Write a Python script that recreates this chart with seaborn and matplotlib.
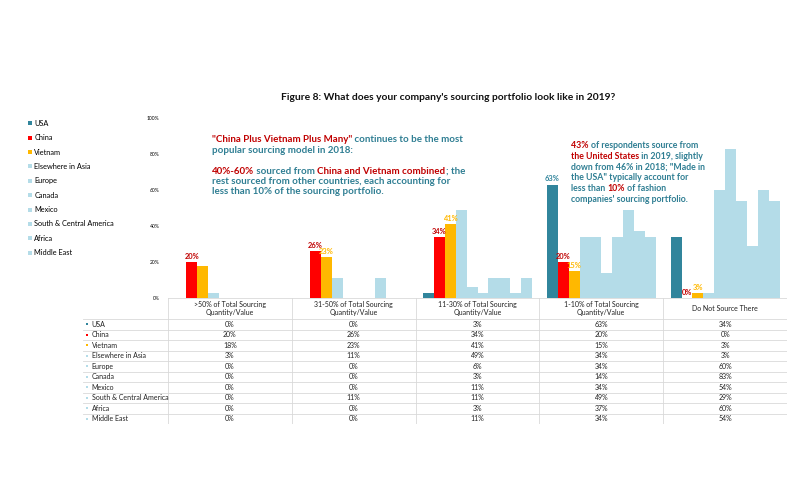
import pandas as pd
import seaborn as sns
import matplotlib.pyplot as plt
from matplotlib.lines import Line2D

# data
groups = [">50% of Total Sourcing\nQuantity/Value", "31-50% of Total Sourcing\nQuantity/Value",
          "11-30% of Total Sourcing\nQuantity/Value", "1-10% of Total Sourcing\nQuantity/Value",
          "Do Not Source There"]
countries = ["USA", "China", "Vietnam", "Elsewhere in Asia", "Europe", "Canada", "Mexico",
             "South & Central America", "Africa", "Middle East"]
usa = [0, 0, 3, 63, 34]
china = [20, 26, 34, 20, 0]
vietnam = [18, 23, 41, 15, 3]
elsewhere_asia = [3, 11, 49, 34, 3]
europe = [0, 0, 6, 34, 60]
canada = [0, 0, 3, 14, 83]
mexico = [0, 0, 11, 34, 54]
south_central_america = [0, 11, 11, 49, 29]
africa = [0, 0, 3, 37, 60]
middle_east = [0, 0, 11, 34, 54]
series = [usa, china, vietnam, elsewhere_asia, europe, canada, mexico,
          south_central_america, africa, middle_east]

teal = "#31859C"
red = "#FF0000"
gold = "#FFB800"
light = "#B4DCE8"
colors = [teal, red, gold] + [light] * 7
txt_red = "#C00000"
txt_teal = "#2F7E93"

rows = []
for c, vals in zip(countries, series):
    for g, v in zip(groups, vals):
        rows.append({"group": g, "country": c, "value": v / 100})
df = pd.DataFrame(rows)

plt.rcParams['font.family'] = ['Lato', 'DejaVu Sans']
fig = plt.figure(figsize=(8.1, 5), dpi=100)
W, H = 810, 500

ax = fig.add_axes([168 / W, 1 - 298 / H, (787 - 168) / W, 180 / H])
sns.barplot(data=df, x="group", y="value", hue="country", palette=colors,
            saturation=1, width=0.88, linewidth=0, ax=ax)
ax.set_xlim(-0.5, 4.5)
ax.set_ylim(0, 1)
ax.set_yticks([0, 0.2, 0.4, 0.6, 0.8, 1.0])
ax.set_yticklabels(["0%", "20%", "40%", "60%", "80%", "100%"])
ax.tick_params(axis="y", length=0, pad=6, labelsize=3.6)
ax.set_xticks([])
ax.set_xlabel("")
ax.set_ylabel("")
for s in ax.spines.values():
    s.set_visible(False)
ax.get_legend().remove()

# bar labels
lab_usa = ["", "", "", "63%", ""]
lab_china = [f"{v}%" for v in china]
lab_vietnam = ["", "23%", "41%", "15%", "3%"]
ax.bar_label(ax.containers[0], labels=lab_usa, color=teal, fontsize=5.4, fontweight="bold", padding=2)
ax.bar_label(ax.containers[1], labels=lab_china, color=txt_red, fontsize=5.4, fontweight="bold", padding=1.5)
ax.bar_label(ax.containers[2], labels=lab_vietnam, color=gold, fontsize=5.4, fontweight="bold", padding=1.5)

# legend at left
handles = [Line2D([], [], marker="s", ls="", color=c, markersize=2.3, markeredgewidth=0)
           for c in colors]
fig.legend(handles, countries, loc="upper left", bbox_to_anchor=(25 / W, 1 - 117 / H),
           frameon=False, fontsize=5.3, labelspacing=1.0, handlelength=0.5,
           handletextpad=0.35, borderaxespad=0)

# title
fig.text(448 / W, 1 - 97 / H,
         "Figure 8: What does your company's sourcing portfolio look like in 2019?",
         ha="center", va="center", fontsize=7.4, fontweight="bold", color="#111111")


# coloured annotation text, built segment by segment
def rich_line(x, y, parts, size):
    prev = None
    for text, col in parts:
        if prev is None:
            prev = fig.text(x / W, 1 - y / H, text, color=col, fontsize=size,
                            fontweight="bold", ha="left", va="center")
        else:
            prev = ax.annotate(text, xy=(1, 0), xycoords=prev, color=col, fontsize=size,
                               fontweight="bold", ha="left", va="bottom")


note1 = [
    [('"China Plus Vietnam Plus Many"', txt_red), (" continues to be the most", txt_teal)],
    [("popular sourcing model in 2018:", txt_teal)],
    None,
    [("40%-60%", txt_red), (" sourced from ", txt_teal), ("China and Vietnam combined", txt_red),
     ("; the", txt_teal)],
    [("rest sourced from other countries, each accounting for", txt_teal)],
    [("less than 10% of the sourcing portfolio.", txt_teal)],
]
for i, parts in enumerate(note1):
    if parts:
        rich_line(212, 140 + i * 10.4, parts, 7.0)

note2 = [
    [("43% ", txt_red), ("of respondents source from", txt_teal)],
    [("the United States", txt_red), (" in 2019, slightly", txt_teal)],
    [('down from 46% in 2018; "Made in', txt_teal)],
    [('the USA" typically account for', txt_teal)],
    [("less than ", txt_teal), ("10%", txt_red), (" of fashion", txt_teal)],
    [("companies' sourcing portfolio.", txt_teal)],
]
for i, parts in enumerate(note2):
    rich_line(571, 146 + i * 10.6, parts, 6.3)

# data table under the chart
tax = fig.add_axes([83 / W, 1 - 424 / H, (787 - 83) / W, 126 / H])
tax.set_xlim(-0.5 - 85 / 123.8, 4.5)
tax.set_ylim(12, 0)
tax.axis("off")
grid = "#D9D9D9"
x_left = -0.5 - 85 / 123.8
for xv in [-0.5, 0.5, 1.5, 2.5, 3.5, 4.5]:
    tax.plot([xv, xv], [0, 12], color=grid, lw=0.6)
tax.plot([-0.5, 4.5], [0, 0], color=grid, lw=0.6)
for yv in range(2, 13):
    tax.plot([x_left, 4.5], [yv, yv], color=grid, lw=0.6)
for j, g in enumerate(groups):
    tax.text(j, 1, g, ha="center", va="center", fontsize=5, color="#222222", linespacing=1.25)
for i, (c, vals) in enumerate(zip(countries, series)):
    yc = 2.5 + i
    tax.scatter([x_left + 0.035], [yc], marker="s", s=4.2, color=colors[i], linewidths=0)
    tax.text(x_left + 0.07, yc, c, ha="left", va="center", fontsize=5, color="#222222")
    for j, v in enumerate(vals):
        tax.text(j, yc, f"{v}%", ha="center", va="center", fontsize=5, color="#222222")

fig.savefig("out.png", dpi=100, facecolor="white")
